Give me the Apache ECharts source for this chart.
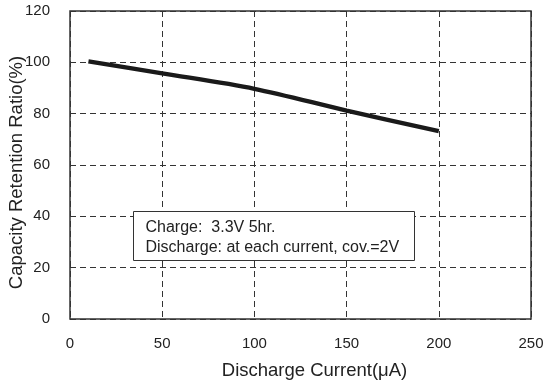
<!DOCTYPE html>
<html>
<head>
<meta charset="utf-8">
<script src="https://cdn.jsdelivr.net/npm/echarts@6/dist/echarts.min.js"></script>
<style>
html,body{margin:0;padding:0;background:#fff;}
#chart{width:544px;height:383px;}
</style>
</head>
<body>
<div id="chart"></div>
<script>
var currents = [10, 50, 100, 150, 200];
var retention = [100.4, 95.7, 89.7, 81.2, 73.2];
var xTicks = [0, 50, 100, 150, 200, 250];
var yTicks = [0, 20, 40, 60, 80, 100, 120];
var noteLines = ['Charge:  3.3V 5hr.', 'Discharge: at each current, cov.=2V'];

var font = 'Liberation Sans, Arial, Helvetica, sans-serif';
var chart = echarts.init(document.getElementById('chart'), null, {renderer: 'canvas'});
var option = {
  animation: false,
  backgroundColor: '#fff',
  grid: {left: 70, right: 13, top: 11, bottom: 64, containLabel: false, outerBoundsMode: 'none',
         show: true, borderColor: '#333', borderWidth: 1.5, backgroundColor: 'transparent'},
  xAxis: {
    type: 'value', min: xTicks[0], max: xTicks[xTicks.length-1], interval: 50,
    name: 'Discharge Current(μA)', nameLocation: 'middle', nameGap: 42, nameMoveOverlap: false,
    nameTextStyle: {fontFamily: font, fontSize: 18.5, color: '#222', padding: [0, 0, 0, 28]},
    axisLine: {show: false}, axisTick: {show: false},
    axisLabel: {fontFamily: font, fontSize: 15, color: '#222', margin: 17},
    splitLine: {show: true, lineStyle: {color: '#333', width: 1, type: [6, 4]}}
  },
  yAxis: {
    type: 'value', min: yTicks[0], max: yTicks[yTicks.length-1], interval: 20,
    name: 'Capacity Retention Ratio(%)', nameLocation: 'middle', nameGap: 44, nameMoveOverlap: false,
    nameTextStyle: {fontFamily: font, fontSize: 18.5, color: '#222', padding: [0, 15, 0, 0]},
    axisLine: {show: false}, axisTick: {show: false},
    axisLabel: {fontFamily: font, fontSize: 15, color: '#222', margin: 20},
    splitLine: {show: true, lineStyle: {color: '#333', width: 1, type: [6, 4]}}
  },
  series: [{
    type: 'line', smooth: 0.3, symbol: 'none',
    data: currents.map(function(c, i){ return [c, retention[i]]; }),
    lineStyle: {color: '#1a1a1a', width: 4.3, cap: 'butt'}
  }],
  graphic: [{
    type: 'group', left: 133, top: 211, z: 100,
    children: [
      {type: 'rect', z: 100, shape: {x: 0, y: 0, width: 281, height: 49}, style: {fill: '#fff', stroke: '#333', lineWidth: 1}},
      {type: 'text', z: 101, x: 12, y: 8, style: {text: noteLines[0], fontFamily: font, fontSize: 16, fill: '#222'}},
      {type: 'text', z: 101, x: 12, y: 28, style: {text: noteLines[1], fontFamily: font, fontSize: 16, fill: '#222'}}
    ]
  }]
};
chart.setOption(option);
</script>
</body>
</html>
